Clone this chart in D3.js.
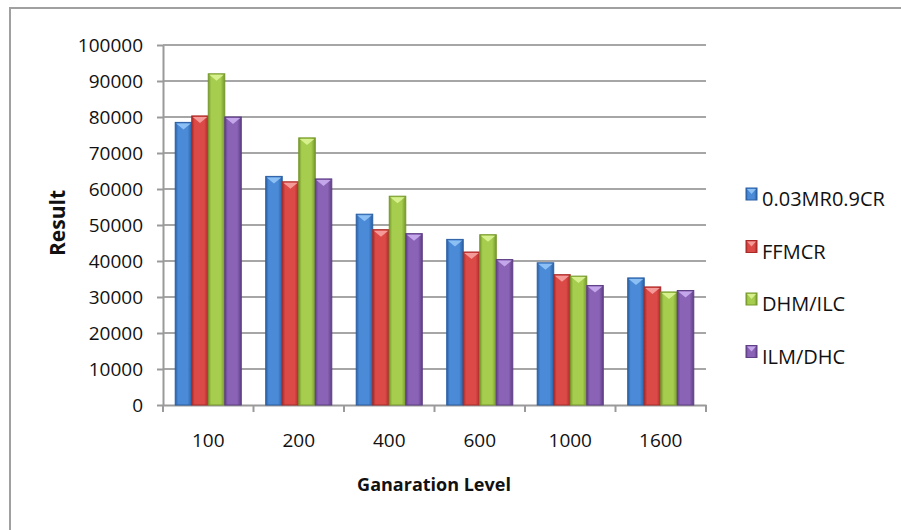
<!DOCTYPE html>
<meta charset="utf-8">
<style>
body { margin: 0; background: #fff; }
text { font-family: "Open Sans", sans-serif; fill: #111; }
.grid line { stroke: #a6a6a6; stroke-width: 2px; }
.axis path, .axis line { stroke: #9a9a9a; stroke-width: 2px; }
</style>
<body>
<svg width="901" height="530"></svg>
</body>
<script src="https://d3js.org/d3.v7.min.js"></script>
<script>

var levels = ["100", "200", "400", "600", "1000", "1600"];
var seriesNames = ["0.03MR0.9CR", "FFMCR", "DHM/ILC", "ILM/DHC"];
var s1 = [78500, 63500, 53000, 46000, 39500, 35300];
var s2 = [80300, 62000, 48700, 42500, 36200, 32800];
var s3 = [92000, 74200, 58000, 47300, 35800, 31400];
var s4 = [80000, 62800, 47600, 40400, 33200, 31800];
var yTicks = [0, 10000, 20000, 30000, 40000, 50000, 60000, 70000, 80000, 90000, 100000];

var colors = [
  {mid: "#4a8ad6", edge: "#2a5fa3", tip: "#8cc0f5"},
  {mid: "#dc4a47", edge: "#a82a28", tip: "#f49a98"},
  {mid: "#a6cd4e", edge: "#76982c", tip: "#d6f08e"},
  {mid: "#8a62b6", edge: "#5f3f85", tip: "#c4a6ea"}
];

var svg = d3.select("svg");

// outer frame
svg.append("path")
    .attr("d", "M10,540 L10,8 L910,8")
    .attr("fill", "none")
    .attr("stroke", "#a0a0a0")
    .attr("stroke-width", 2);

var defs = svg.append("defs");
colors.forEach(function(c, i) {
  var g = defs.append("linearGradient").attr("id", "grad" + i)
      .attr("x1", "0%").attr("x2", "100%").attr("y1", "0%").attr("y2", "0%");
  g.append("stop").attr("offset", "0%").attr("stop-color", c.edge);
  g.append("stop").attr("offset", "18%").attr("stop-color", c.mid);
  g.append("stop").attr("offset", "75%").attr("stop-color", c.mid);
  g.append("stop").attr("offset", "100%").attr("stop-color", c.edge);
});

var plotLeft = 163, plotRight = 706, plotTop = 45, plotBottom = 405;

var y = d3.scaleLinear().domain([0, 100000]).range([plotBottom, plotTop]);
var x0 = d3.scaleBand().domain(levels).range([plotLeft, plotRight])
    .paddingInner(0.27).paddingOuter(0.135);
var x1 = d3.scaleBand().domain(d3.range(4)).range([0, x0.bandwidth()]);

// gridlines
svg.append("g").attr("class", "grid")
  .selectAll("line")
  .data(yTicks.slice(1))
  .enter().append("line")
    .attr("x1", plotLeft).attr("x2", plotRight)
    .attr("y1", function(d) { return y(d); })
    .attr("y2", function(d) { return y(d); });

// y axis
var yAxis = svg.append("g").attr("class", "axis")
    .attr("transform", "translate(" + plotLeft + ",0)")
    .call(d3.axisLeft(y).tickValues(yTicks).tickSize(6).tickPadding(14)
      .tickSizeOuter(0).tickFormat(d3.format("d")));
yAxis.selectAll("text").style("font-size", "19px").attr("dy", "0.36em");

// x axis
var xAxis = svg.append("g").attr("class", "axis")
    .attr("transform", "translate(0," + plotBottom + ")")
    .call(d3.axisBottom(x0).tickSize(0).tickSizeOuter(0).tickPadding(29));
xAxis.selectAll("text").style("font-size", "19px");
xAxis.selectAll(".tick line").remove();
var edges = levels.map(function(d) { return x0(d) - x0.step() * x0.paddingInner() / 2; });
edges[0] = plotLeft;
edges.push(plotRight);
xAxis.selectAll(".sep").data(edges).enter().append("line")
    .attr("x1", function(d) { return d; }).attr("x2", function(d) { return d; })
    .attr("y1", 0).attr("y2", 7)
    .attr("stroke", "#9a9a9a").attr("stroke-width", 2);

// bars
var data = [s1, s2, s3, s4];
var groups = svg.append("g").selectAll("g")
  .data(levels)
  .enter().append("g")
    .attr("transform", function(d) { return "translate(" + x0(d) + ",0)"; });

groups.each(function(lv, li) {
  var g = d3.select(this);
  data.forEach(function(s, si) {
    var bx = x1(si), bw = x1.bandwidth(), by = y(s[li]);
    g.append("rect")
        .attr("x", bx).attr("y", by)
        .attr("width", bw).attr("height", plotBottom - by)
        .attr("fill", "url(#grad" + si + ")")
        .attr("stroke", colors[si].edge)
        .attr("stroke-width", 1);
    g.append("path")
        .attr("d", "M" + (bx + 1) + "," + (by + 1) + " L" + (bx + bw - 1) + "," + (by + 1) +
          " L" + (bx + bw / 2) + "," + (by + 7) + " Z")
        .attr("fill", colors[si].tip);
  });
});

// axis titles
svg.append("text")
    .attr("transform", "translate(65,223) rotate(-90)")
    .attr("text-anchor", "middle")
    .style("font-size", "21px").style("font-weight", "bold")
    .text("Result");

svg.append("text")
    .attr("x", 434).attr("y", 491)
    .attr("text-anchor", "middle")
    .style("font-size", "18px").style("font-weight", "bold")
    .text("Ganaration Level");

// legend
var legend = svg.selectAll(".legend")
  .data(seriesNames)
  .enter().append("g")
    .attr("class", "legend")
    .attr("transform", function(d, i) { return "translate(746," + (198 + i * 52.5) + ")"; });

legend.append("rect")
    .attr("x", 0).attr("y", -10)
    .attr("width", 11).attr("height", 12)
    .attr("fill", function(d, i) { return "url(#grad" + i + ")"; })
    .attr("stroke", function(d, i) { return colors[i].edge; });
legend.append("path")
    .attr("d", "M1,-9 L10,-9 L5.5,-4 Z")
    .attr("fill", function(d, i) { return colors[i].tip; });

legend.append("text")
    .attr("x", 16).attr("y", 1)
    .attr("dy", "0.35em")
    .style("font-size", "20px")
    .text(function(d) { return d; });

</script>
</html>
